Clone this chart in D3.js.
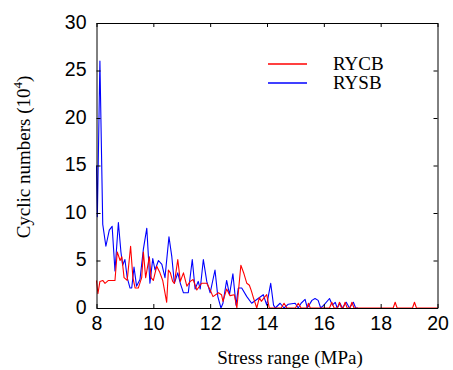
<!DOCTYPE html>
<html>
<head>
<meta charset="utf-8">
<script src="https://cdn.jsdelivr.net/npm/d3@7"></script>
<style>
    body { margin: 0; background: #fff; }
    .axis path, .axis line { stroke: #000; }
    .axis text { font-family: "Liberation Sans", Arial, sans-serif; font-size: 19.5px; fill: #000; }
    .title { font-family: "Liberation Serif", "Times New Roman", serif; font-size: 19px; fill: #000; }
    .line { fill: none; stroke-width: 1.1; stroke-linejoin: round; }
</style>
</head>
<body>
<div id="chart"></div>
<script>
// stress range (MPa) values for RYSB
var rysbX = [8.00, 8.03, 8.12, 8.22, 8.33, 8.45, 8.55, 8.65, 8.77, 8.86, 8.92, 9.00, 9.08, 9.18, 9.24, 9.32, 9.41, 9.53,
    9.65, 9.77, 9.88, 9.98, 10.06, 10.18, 10.30, 10.41, 10.55, 10.65, 10.74, 10.86, 10.95, 11.06, 11.23, 11.37, 11.47,
    11.58, 11.65, 11.76, 11.88, 12.00, 12.17, 12.27, 12.38, 12.45, 12.58, 12.68, 12.80, 12.91, 12.99, 13.11, 13.29,
    13.46, 13.64, 13.87, 13.99, 14.13, 14.23, 14.29, 14.46, 14.60, 14.75, 14.99, 15.10, 15.20, 15.34, 15.42, 15.58,
    15.69, 15.80, 15.89, 16.00, 16.20, 16.30, 16.40, 16.47, 16.57, 16.65, 16.79, 16.90, 17.04, 17.12, 17.20];
// cyclic numbers (10^4) for RYSB
var rysbY = [15.0, 9.6, 26.0, 8.8, 6.5, 8.2, 8.6, 3.9, 9.0, 5.9, 4.5, 5.1, 3.2, 2.1, 2.1, 4.3, 2.3, 3.0,
    6.2, 8.4, 2.6, 5.2, 4.0, 5.0, 4.6, 3.2, 7.5, 5.4, 2.6, 3.7, 2.6, 1.6, 1.6, 5.1, 2.0,
    2.8, 2.0, 5.1, 2.8, 1.6, 4.0, 1.2, 0.0, 0.5, 2.9, 1.4, 3.6, 0.3, 2.1, 2.1, 1.2,
    0.5, 0.9, 1.4, 0.3, 2.6, 0.3, 0.0, 0.5, 0.0, 0.4, 0.5, 0.0, 0.5, 0.9, 0.0, 0.8,
    1.0, 0.8, 0.0, 0.3, 1.0, 0.3, 0.6, 0.0, 0.5, 0.0, 0.6, 0.0, 0.6, 0.0, 0.0];

// stress range (MPa) values for RYCB
var rycbX = [8.00, 8.05, 8.12, 8.22, 8.30, 8.42, 8.53, 8.65, 8.73, 8.83, 8.89, 8.97, 9.08, 9.20, 9.28, 9.36, 9.47,
    9.59, 9.65, 9.73, 9.86, 9.92, 10.00, 10.12, 10.22, 10.33, 10.47, 10.53, 10.60, 10.68, 10.74, 10.86, 10.95, 11.06,
    11.18, 11.30, 11.40, 11.53, 11.70, 11.88, 12.00, 12.10, 12.29, 12.40, 12.45, 12.58, 12.70, 12.85, 12.94, 13.08,
    13.19, 13.29, 13.38, 13.45, 13.52, 13.64, 13.73, 13.80, 13.90, 13.99, 14.08, 14.50, 14.60, 14.70, 15.00, 15.10,
    15.20, 15.40, 15.46, 15.52, 16.20, 16.28, 16.36, 16.48, 16.55, 16.62, 16.68, 16.75, 16.82, 16.92, 16.99, 17.06,
    18.44, 18.51, 18.58, 19.12, 19.19, 19.26, 20.00];
// cyclic numbers (10^4) for RYCB
var rycbY = [2.9, 1.5, 2.8, 2.9, 2.6, 2.9, 2.9, 2.9, 5.9, 5.0, 5.4, 3.2, 2.9, 6.5, 3.2, 2.1, 2.1,
    3.2, 5.9, 3.2, 5.4, 3.2, 2.9, 4.4, 3.8, 2.9, 0.6, 4.0, 3.7, 2.8, 2.6, 5.1, 2.8, 3.7,
    2.3, 2.8, 3.0, 1.9, 2.6, 2.6, 1.9, 1.2, 1.6, 1.4, 0.7, 2.0, 1.3, 1.4, 0.0, 4.5,
    3.6, 2.6, 2.4, 1.8, 1.1, 0.0, 1.1, 0.7, 1.1, 1.4, 0.0, 0.0, 0.5, 0.0, 0.0, 0.5,
    0.0, 0.0, 0.5, 0.0, 0.0, 0.6, 0.0, 0.0, 0.6, 0.0, 0.0, 0.6, 0.0, 0.0, 0.6, 0.0,
    0.0, 0.6, 0.0, 0.0, 0.6, 0.0, 0.0];

var xTicks = [8, 10, 12, 14, 16, 18, 20];
var yTicks = [0, 5, 10, 15, 20, 25, 30];
var seriesNames = ["RYCB", "RYSB"];
var seriesColors = ["#ff0000", "#0000ff"];

function init() {
    var w = 453;
    var h = 370;

    var left = 96.5, right = 437.5, top = 23, bottom = 308;

    var xScale = d3.scaleLinear().domain([8, 20]).range([left, right]);
    var yScale = d3.scaleLinear().domain([0, 30]).range([bottom, top]);

    var svg = d3.select("#chart")
                .append("svg")
                .attr("width", w)
                .attr("height", h);

    var line = d3.line()
                 .x(function(d) { return xScale(d[0]); })
                 .y(function(d) { return yScale(d[1]); });

    var rysb = d3.zip(rysbX, rysbY);
    var rycb = d3.zip(rycbX, rycbY);

    //blue first so red sits on top
    svg.append("path")
        .datum(rysb)
        .attr("class", "line")
        .attr("stroke", seriesColors[1])
        .attr("d", line);

    svg.append("path")
        .datum(rycb)
        .attr("class", "line")
        .attr("stroke", seriesColors[0])
        .attr("d", line);

    //axes, ticks pointing inward on all four sides
    svg.append("g")
        .attr("class", "axis")
        .attr("transform", "translate(0," + bottom + ")")
        .call(d3.axisBottom(xScale).tickValues(xTicks).tickSizeInner(-4).tickSizeOuter(0).tickPadding(8));

    svg.append("g")
        .attr("class", "axis")
        .attr("transform", "translate(" + left + ",0)")
        .call(d3.axisLeft(yScale).tickValues(yTicks).tickSizeInner(-4).tickSizeOuter(0).tickPadding(10));

    svg.append("g")
        .attr("class", "axis")
        .attr("transform", "translate(0," + top + ")")
        .call(d3.axisTop(xScale).tickValues(xTicks).tickSizeInner(-4).tickSizeOuter(0).tickFormat(""));

    svg.append("g")
        .attr("class", "axis")
        .attr("transform", "translate(" + right + ",0)")
        .call(d3.axisRight(yScale).tickValues(yTicks).tickSizeInner(-4).tickSizeOuter(0).tickFormat(""));

    svg.selectAll(".axis text").attr("dy", null);
    svg.selectAll(".axis").filter(function(d, i) { return i === 0; })
        .selectAll("text").attr("dominant-baseline", "hanging");
    svg.selectAll(".axis").filter(function(d, i) { return i === 1; })
        .selectAll("text").attr("dominant-baseline", "middle");

    //axis titles
    svg.append("text")
        .attr("class", "title")
        .attr("x", 290)
        .attr("y", 364)
        .attr("text-anchor", "middle")
        .text("Stress range (MPa)");

    var yt = svg.append("text")
        .attr("class", "title")
        .attr("font-size", "20.5px")
        .attr("transform", "translate(30,157) rotate(-90)")
        .attr("text-anchor", "middle");
    yt.append("tspan").text("Cyclic numbers (10");
    yt.append("tspan").attr("font-size", "13px").attr("dy", "-8").text("4");
    yt.append("tspan").attr("dy", "8").text(")");

    //legend
    var legend = svg.selectAll(".legend")
        .data(seriesNames)
        .enter()
        .append("g")
        .attr("class", "legend")
        .attr("transform", function(d, i) { return "translate(0," + (64 + i * 19) + ")"; });

    legend.append("line")
        .attr("x1", 268)
        .attr("x2", 307)
        .attr("stroke-width", 1.3)
        .attr("stroke", function(d, i) { return seriesColors[i]; });

    legend.append("text")
        .attr("class", "title")
        .attr("x", 333)
        .attr("y", 6)
        .text(function(d) { return d; });
}
window.onload = init;
</script>
</body>
</html>
